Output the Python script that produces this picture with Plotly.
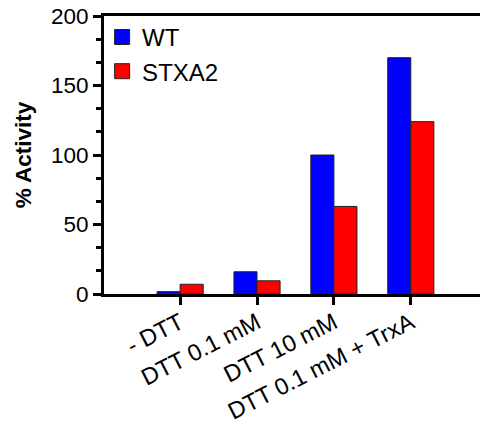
import plotly.graph_objects as go

categories = ["- DTT", "DTT 0.1 mM", "DTT 10 mM", "DTT 0.1 mM + TrxA"]
wt_values = [1.7, 16, 100, 170]
stxa2_values = [7, 9.5, 63, 124]
y_ticks = [0, 50, 100, 150, 200]
series_names = ["WT", "STXA2"]
series_colors = ["#0000FF", "#FF0000"]

FONT = "Liberation Sans, Arial, sans-serif"

fig = go.Figure()
for name, vals, col in zip(series_names, [wt_values, stxa2_values], series_colors):
    fig.add_trace(go.Bar(x=categories, y=vals, name=name, showlegend=False,
                         marker=dict(color=col, line=dict(color="#222222", width=1))))
# legend entries with larger square symbols
for name, col in zip(series_names, series_colors):
    fig.add_trace(go.Scatter(x=[None], y=[None], mode="markers", name=name,
                             marker=dict(symbol="square", size=15, color=col,
                                         line=dict(color="#222222", width=1))))

fig.update_layout(
    width=480, height=432,
    margin=dict(l=104, r=0, t=16, b=138, autoexpand=False),
    plot_bgcolor="white", paper_bgcolor="white",
    barmode="group", bargap=0.4, bargroupgap=0,
    font=dict(family=FONT, size=22.5, color="black"),
    showlegend=True,
    legend=dict(x=-0.005, y=1.004, xanchor="left", yanchor="top",
                bgcolor="rgba(0,0,0,0)", font=dict(size=24),
                tracegroupgap=0, itemwidth=30),
)
fig.update_xaxes(
    range=[-0.99, 3.9], showline=True, linecolor="black", linewidth=3,
    mirror=True, ticks="outside", ticklen=8, tickwidth=3, tickcolor="black",
    tickangle=-27, showgrid=False, zeroline=False, automargin=False,
    tickfont=dict(size=23.5), ticklabeloverflow="allow", ticklabelstandoff=-5,
)
fig.update_yaxes(
    range=[0, 200], tickvals=y_ticks, showline=True, linecolor="black", linewidth=3,
    ticks="outside", ticklen=8, tickwidth=3, tickcolor="black",
    minor=dict(dtick=50/3, tick0=0, ticks="outside", ticklen=5, tickwidth=3, tickcolor="black"),
    showgrid=False, zeroline=False, automargin=False, ticklabeloverflow="allow",
    title=dict(text="<b>% Activity</b>", font=dict(size=22.5), standoff=14),
    tickfont=dict(size=22.5),
)

fig.write_html(
    "out.html",
    config={"displayModeBar": False},
    post_script="document.body.style.margin='0';document.body.style.overflow='hidden';",
)
